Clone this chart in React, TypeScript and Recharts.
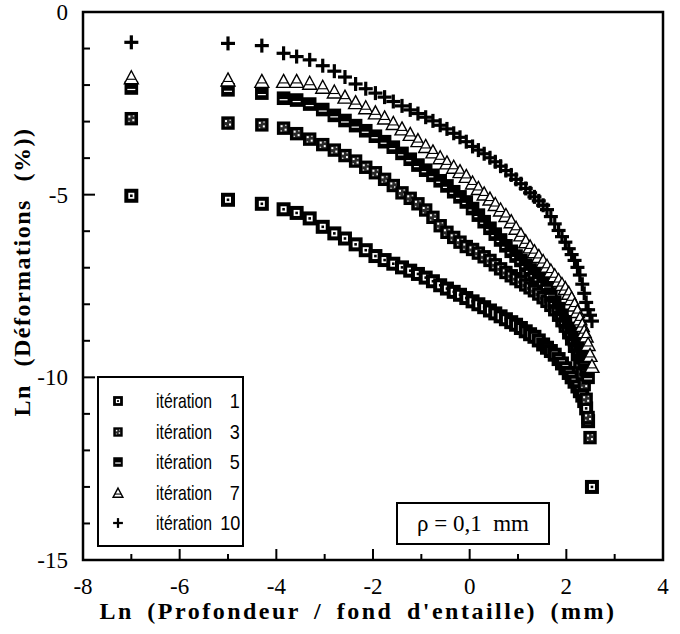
import React from 'react';
import { ScatterChart, Scatter, XAxis, YAxis, ReferenceArea } from 'recharts';

// Ln(depth) positions shared by every iteration (same mesh nodes)
const lnDepth = [
  -7, -5, -4.3, -3.85, -3.58, -3.31, -3.04, -2.8, -2.58, -2.36, -2.15, -1.95, -1.76, -1.58,
  -1.4, -1.23, -1.07, -0.91, -0.76, -0.61, -0.47, -0.33, -0.2, -0.07, 0.06, 0.18, 0.3, 0.42,
  0.53, 0.64, 0.75, 0.86, 0.96, 1.06, 1.16, 1.25, 1.34, 1.43, 1.52, 1.6, 1.68, 1.76, 1.84,
  1.91, 1.98, 2.05, 2.11, 2.17, 2.23, 2.28, 2.33, 2.37, 2.41, 2.45, 2.49, 2.53,
];

const iter1 = [
  -5.03, -5.14, -5.25, -5.4, -5.5, -5.65, -5.88, -6.06, -6.2, -6.36, -6.52, -6.68, -6.79, -6.89,
  -6.99, -7.08, -7.17, -7.27, -7.37, -7.48, -7.57, -7.66, -7.74, -7.83, -7.92, -8.0, -8.08, -8.17,
  -8.25, -8.33, -8.41, -8.49, -8.56, -8.65, -8.74, -8.82, -8.89, -8.99, -9.1, -9.19, -9.28, -9.38,
  -9.5, -9.62, -9.75, -9.88, -10.0, -10.12, -10.25, -10.38, -10.5, -10.65, -10.85, -11.2, null, -13.0,
];

const iter3 = [
  -2.92, -3.04, -3.09, -3.18, -3.33, -3.48, -3.63, -3.78, -3.93, -4.08, -4.25, -4.4, -4.58, -4.75,
  -4.95, -5.1, -5.25, -5.42, -5.62, -5.85, -6.03, -6.17, -6.3, -6.42, -6.5, -6.6, -6.7, -6.8,
  -6.92, -7.03, -7.13, -7.22, -7.3, -7.38, -7.47, -7.55, -7.63, -7.72, -7.82, -7.92, -8.03, -8.15,
  -8.3, -8.45, -8.6, -8.78, -8.95, -9.15, -9.38, -9.6, -9.9, -10.2, -10.6, -11.1, -11.65, null,
];

const iter5 = [
  -2.08, -2.13, -2.22, -2.36, -2.41, -2.52, -2.67, -2.83, -2.97, -3.11, -3.25, -3.4, -3.55, -3.7,
  -3.87, -4.03, -4.19, -4.33, -4.47, -4.62, -4.76, -4.92, -5.06, -5.2, -5.38, -5.56, -5.74, -5.92,
  -6.08, -6.24, -6.4, -6.55, -6.68, -6.8, -6.93, -7.06, -7.18, -7.29, -7.4, -7.5, -7.72, -7.94,
  -8.12, -8.3, -8.48, -8.66, -8.8, -8.98, -9.15, -9.3, -9.45, -9.6, -9.8, -10.0, null, null,
];

const iter7 = [
  -1.8, -1.86, -1.9, -1.9, -1.9, -1.95, -2.06, -2.19, -2.33, -2.48, -2.62, -2.76, -2.9, -3.05,
  -3.2, -3.35, -3.52, -3.68, -3.83, -3.99, -4.13, -4.25, -4.37, -4.5, -4.68, -4.83, -4.98, -5.12,
  -5.27, -5.42, -5.57, -5.74, -5.92, -6.1, -6.29, -6.43, -6.56, -6.69, -6.83, -6.96, -7.09, -7.22,
  -7.35, -7.46, -7.57, -7.7, -7.85, -8.02, -8.2, -8.4, -8.58, -8.75, -8.87, -9.1, -9.4, -9.7,
];

const iter10 = [
  -0.83, -0.86, -0.92, -1.13, -1.22, -1.31, -1.47, -1.62, -1.78, -1.97, -2.1, -2.22, -2.33, -2.45,
  -2.57, -2.68, -2.78, -2.88, -2.98, -3.1, -3.2, -3.32, -3.43, -3.55, -3.68, -3.78, -3.88, -3.99,
  -4.1, -4.22, -4.34, -4.46, -4.58, -4.7, -4.83, -4.95, -5.06, -5.17, -5.29, -5.41, -5.6, -5.8,
  -5.98, -6.15, -6.3, -6.48, -6.64, -6.8, -6.99, -7.2, -7.45, -7.7, -7.95, -8.15, -8.3, -8.46,
];

const xTicks = [-8, -7, -6, -5, -4, -3, -2, -1, 0, 1, 2, 3, 4];
const yTicks = [-15, -14, -13, -12, -11, -10, -9, -8, -7, -6, -5, -4, -3, -2, -1, 0];

const legendLabels = ['1', '3', '5', '7', '10'];

const toPoints = (ys: (number | null)[]) =>
  lnDepth.map((x, i) => ({ x, y: ys[i] })).filter((p) => p.y !== null);

const serif = "'Liberation Serif', 'Times New Roman', serif";
const sans = "'Liberation Sans', Arial, sans-serif";

// markers; k scales them (plot 1, legend smaller)
function MarkIter1({ cx, cy, k = 1 }: any) {
  const h = 5 * k;
  return (
    <g>
      <rect x={cx - h} y={cy - h} width={2 * h} height={2 * h} fill="#fff" stroke="#000" strokeWidth={4 * k} />
      <rect x={cx - 1.3 * k} y={cy - 1.3 * k} width={2.6 * k} height={2.6 * k} fill="#000" />
    </g>
  );
}

function MarkIter3({ cx, cy, k = 1 }: any) {
  const h = 5.2 * k;
  return (
    <g>
      <rect x={cx - h} y={cy - h} width={2 * h} height={2 * h} fill="#2a2a2a" stroke="#000" strokeWidth={3 * k} />
      <rect x={cx - 3 * k} y={cy - 3 * k} width={2 * k} height={2 * k} fill="#fff" />
      <rect x={cx + 1 * k} y={cy + 0.5 * k} width={2 * k} height={2 * k} fill="#fff" />
      <rect x={cx + 1.5 * k} y={cy - 3.5 * k} width={1.4 * k} height={1.4 * k} fill="#ccc" />
      <rect x={cx - 3 * k} y={cy + 2 * k} width={1.4 * k} height={1.4 * k} fill="#ccc" />
    </g>
  );
}

function MarkIter5({ cx, cy, k = 1 }: any) {
  const h = 6.8 * k;
  return (
    <g>
      <rect x={cx - h} y={cy - h} width={2 * h} height={2 * h} fill="#000" />
      <line x1={cx - 4 * k} x2={cx + 4 * k} y1={cy + 1.5 * k} y2={cy + 1.5 * k} stroke="#fff" strokeWidth={1.2} />
    </g>
  );
}

function MarkIter7({ cx, cy, k = 1 }: any) {
  return (
    <g>
      <path
        d={`M${cx},${cy - 7 * k} L${cx + 7 * k},${cy + 6 * k} L${cx - 7 * k},${cy + 6 * k} Z`}
        fill="#fff"
        stroke="#000"
        strokeWidth={1.4}
      />
      <line x1={cx - 4.5 * k} x2={cx + 4.5 * k} y1={cy + 1.5 * k} y2={cy + 1.5 * k} stroke="#000" strokeWidth={1.1} />
    </g>
  );
}

function MarkIter10({ cx, cy, k = 1 }: any) {
  return (
    <g stroke="#000" strokeWidth={3.2 * k}>
      <line x1={cx - 7 * k} x2={cx + 7 * k} y1={cy} y2={cy} />
      <line x1={cx} x2={cx} y1={cy - 7 * k} y2={cy + 7 * k} />
    </g>
  );
}

const marks = [MarkIter1, MarkIter3, MarkIter5, MarkIter7, MarkIter10];

function XTick({ x, y, payload }: any) {
  const v = payload.value;
  const major = v % 2 === 0;
  const ay = y - 20;
  return (
    <g>
      <line x1={x} x2={x} y1={ay} y2={ay - (major ? 11 : 6)} stroke="#000" strokeWidth={2} />
      {major && (
        <text x={x} y={ay + 34} textAnchor="middle" fontFamily={serif} fontSize={23} fill="#000">
          {v}
        </text>
      )}
    </g>
  );
}

function YTick({ x, y, payload }: any) {
  const v = payload.value;
  const major = v % 5 === 0;
  const ax = x + 15;
  return (
    <g>
      <line x1={ax} x2={ax + (major ? 12 : 7)} y1={y} y2={y} stroke="#000" strokeWidth={2} />
      {major && (
        <text x={x} y={y + 8} textAnchor="end" fontFamily={serif} fontSize={23} fill="#000">
          {v}
        </text>
      )}
    </g>
  );
}

export default function App() {
  const series = [iter1, iter3, iter5, iter7, iter10];
  return (
    <div style={{ position: 'absolute', left: 0, top: 0, width: 680, height: 634, background: '#fff' }}>
      <ScatterChart width={680} height={634} margin={{ top: 12, right: 17, bottom: 24, left: 0 }}>
        <XAxis
          type="number"
          dataKey="x"
          domain={[-8, 4]}
          ticks={xTicks}
          interval={0}
          height={50}
          tickSize={0}
          tickMargin={20}
          tickLine={false}
          axisLine={false}
          tick={<XTick />}
        />
        <YAxis
          type="number"
          dataKey="y"
          domain={[-15, 0]}
          ticks={yTicks}
          interval={0}
          width={83}
          tickSize={0}
          tickMargin={15}
          tickLine={false}
          axisLine={false}
          tick={<YTick />}
        />
        <ReferenceArea x1={-8} x2={4} y1={-15} y2={0} fill="none" stroke="#000" strokeWidth={2.5} />
        {series.map((ys, i) => {
          const Mark = marks[i];
          return (
            <Scatter
              key={i}
              name={`itération ${legendLabels[i]}`}
              data={toPoints(ys)}
              isAnimationActive={false}
              shape={(p: any) => <Mark cx={p.cx} cy={p.cy} />}
            />
          );
        })}
      </ScatterChart>

      {/* legend box */}
      <div
        style={{
          position: 'absolute',
          left: 97,
          top: 376,
          width: 143,
          height: 167,
          border: '2px solid #000',
          background: '#fff',
        }}
      >
        {legendLabels.map((lab, i) => {
          const Mark = marks[i];
          return (
            <div key={lab} style={{ position: 'absolute', left: 0, top: 10 + i * 30.5, width: 143, height: 26 }}>
              <svg width={30} height={26} style={{ position: 'absolute', left: 4, top: 0 }}>
                <Mark cx={15} cy={13} k={0.7} />
              </svg>
              <span
                style={{
                  position: 'absolute',
                  left: 57,
                  top: 0,
                  fontFamily: sans,
                  fontSize: 21,
                  lineHeight: '26px',
                  transform: 'scaleX(0.75)',
                  transformOrigin: 'left center',
                  whiteSpace: 'nowrap',
                }}
              >
                itération
              </span>
              <span
                style={{
                  position: 'absolute',
                  right: 2,
                  top: 0,
                  fontFamily: sans,
                  fontSize: 21,
                  lineHeight: '26px',
                  transform: 'scaleX(0.86)',
                  transformOrigin: 'right center',
                }}
              >
                {lab}
              </span>
            </div>
          );
        })}
      </div>

      {/* notch radius box */}
      <div
        style={{
          position: 'absolute',
          left: 396,
          top: 502,
          width: 150,
          height: 39,
          border: '2px solid #000',
          background: '#fff',
          fontFamily: serif,
          fontSize: 23,
          lineHeight: '39px',
          textAlign: 'center',
          whiteSpace: 'nowrap',
        }}
      >
        ρ = 0,1&nbsp; mm
      </div>

      {/* axis titles */}
      <div
        style={{
          position: 'absolute',
          left: 58,
          top: 599,
          width: 600,
          textAlign: 'center',
          fontFamily: serif,
          fontWeight: 'bold',
          fontSize: 24,
          lineHeight: '24px',
          letterSpacing: 2.5,
          wordSpacing: 5,
          whiteSpace: 'nowrap',
        }}
      >
        Ln (Profondeur / fond d'entaille) (mm)
      </div>
      <div
        style={{
          position: 'absolute',
          left: 22 - 200,
          top: 272 - 12,
          width: 400,
          textAlign: 'center',
          fontFamily: serif,
          fontWeight: 'bold',
          fontSize: 24,
          lineHeight: '24px',
          letterSpacing: 1.5,
          wordSpacing: 10,
          whiteSpace: 'nowrap',
          transform: 'rotate(-90deg)',
        }}
      >
        Ln (Déformations (%))
      </div>
    </div>
  );
}
